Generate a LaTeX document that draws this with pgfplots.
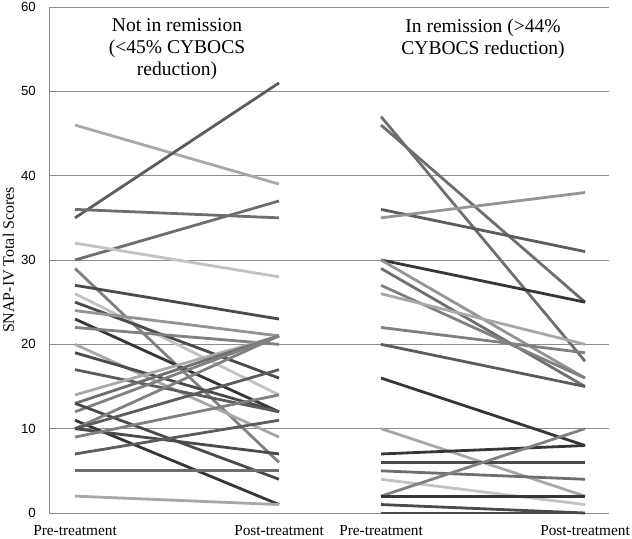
\documentclass[border=0pt]{standalone}
\usepackage{fontspec}
\setmainfont{Liberation Serif}
\newfontfamily\sansf{Liberation Sans}
\usepackage{pgfplots}
\pgfplotsset{compat=1.18}
\definecolor{g1}{HTML}{363636}
\definecolor{g2}{HTML}{4A4A4A}
\definecolor{g3}{HTML}{5C5C5C}
\definecolor{g4}{HTML}{6E6E6E}
\definecolor{g5}{HTML}{808080}
\definecolor{g6}{HTML}{949494}
\definecolor{g7}{HTML}{A8A8A8}
\definecolor{g8}{HTML}{C2C2C2}
\definecolor{gridgray}{HTML}{8C8C8C}
\begin{document}
\begin{tikzpicture}
\useasboundingbox (-49bp,-26bp) rectangle (583bp,513bp);
\begin{axis}[
  at={(0,0)}, anchor=south west,
  scale only axis, width=560bp, height=506bp,
  xmin=-0.255, xmax=5.235, ymin=0, ymax=60,
  axis lines*=left,
  axis line style={gridgray, line width=0.9bp},
  major tick length=0pt,
  ytick={0,10,...,60},
  xtick={0,2,3,5},
  xticklabels={Pre-treatment,Post-treatment,Pre-treatment,Post-treatment},
  ymajorgrids,
  grid style={gridgray, line width=0.9bp},
  /pgf/number format/assume math mode=true,
  yticklabel style={font=\sansf\fontsize{13.3}{14}\selectfont, anchor=east, inner sep=0pt, xshift=-13bp},
  xticklabel style={font=\fontsize{15.4}{16}\selectfont, anchor=base, inner sep=0pt, yshift=-22bp},
  ylabel={SNAP-IV Total Scores},
  ylabel style={font=\fontsize{16}{17}\selectfont, at={(axis description cs:-0.0723,0.5)}, anchor=center},
  clip=false,
  every axis plot/.append style={line width=2.8bp, mark=none},
]
% Not in remission
\addplot[g7] coordinates {(0,46) (2,39)};
\addplot[g3] coordinates {(0,35) (2,51)};
\addplot[g4] coordinates {(0,36) (2,35)};
\addplot[g4] coordinates {(0,30) (2,37)};
\addplot[g8] coordinates {(0,32) (2,28)};
\addplot[g5] coordinates {(0,29) (2,6)};
\addplot[g2] coordinates {(0,27) (2,23)};
\addplot[g8] coordinates {(0,26) (2,14)};
\addplot[g2] coordinates {(0,25) (2,16)};
\addplot[g6] coordinates {(0,24) (2,21)};
\addplot[g1] coordinates {(0,23) (2,12)};
\addplot[g5] coordinates {(0,22) (2,20)};
\addplot[g7] coordinates {(0,20) (2,9)};
\addplot[g2] coordinates {(0,19) (2,12)};
\addplot[g3] coordinates {(0,17) (2,12)};
\addplot[g7] coordinates {(0,14) (2,21)};
\addplot[g4] coordinates {(0,13) (2,21)};
\addplot[g5] coordinates {(0,12) (2,21)};
\addplot[g2] coordinates {(0,13) (2,4)};
\addplot[g1] coordinates {(0,11) (2,1)};
\addplot[g5] coordinates {(0,10) (2,21)};
\addplot[g3] coordinates {(0,10) (2,17)};
\addplot[g2] coordinates {(0,10) (2,7)};
\addplot[g5] coordinates {(0,9) (2,14)};
\addplot[g3] coordinates {(0,7) (2,11)};
\addplot[g4] coordinates {(0,5) (2,5)};
\addplot[g7] coordinates {(0,2) (2,1)};
% In remission
\addplot[g4] coordinates {(3,47) (5,18)};
\addplot[g4] coordinates {(3,46) (5,25)};
\addplot[g3] coordinates {(3,36) (5,31)};
\addplot[g6] coordinates {(3,35) (5,38)};
\addplot[g1] coordinates {(3,30) (5,25)};
\addplot[g6] coordinates {(3,30) (5,16)};
\addplot[g4] coordinates {(3,29) (5,15)};
\addplot[g5] coordinates {(3,27) (5,16)};
\addplot[g7] coordinates {(3,26) (5,20)};
\addplot[g5] coordinates {(3,22) (5,19)};
\addplot[g3] coordinates {(3,20) (5,15)};
\addplot[g1] coordinates {(3,16) (5,8)};
\addplot[g7] coordinates {(3,10) (5,2)};
\addplot[g1] coordinates {(3,7) (5,8)};
\addplot[g2] coordinates {(3,6) (5,6)};
\addplot[g4] coordinates {(3,5) (5,4)};
\addplot[g8] coordinates {(3,4) (5,1)};
\addplot[g5] coordinates {(3,2) (5,10)};
\addplot[g1] coordinates {(3,2) (5,2)};
\addplot[g2] coordinates {(3,1) (5,0)};
\addplot[g2] coordinates {(3,0) (5,0)};
\node[align=center, anchor=north, inner sep=0pt, font=\fontsize{19.6}{22}\selectfont] at (axis cs:1,58.6) {Not in remission\\(<45\% CYBOCS\\reduction)};
\node[align=center, anchor=north, inner sep=0pt, font=\fontsize{19.6}{22}\selectfont] at (axis cs:4,58.6) {In remission (>44\%\\CYBOCS reduction)};
\end{axis}
\end{tikzpicture}
\end{document}
